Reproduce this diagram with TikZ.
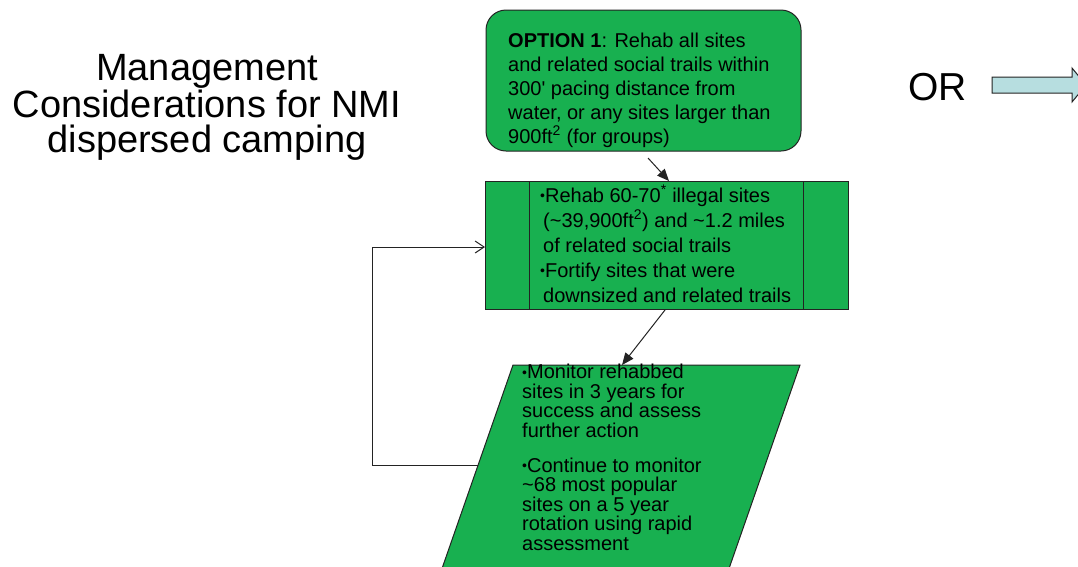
\documentclass[tikz,border=0pt]{standalone}
\usepackage{fontspec}
\setmainfont{Liberation Sans}
\usetikzlibrary{arrows.meta}
\definecolor{boxgreen}{RGB}{24,176,80}
\definecolor{arrowcyan}{RGB}{183,222,224}
\definecolor{edgegray}{RGB}{35,35,35}
\newcommand\bul{{\fontsize{14}{14}\selectfont\raisebox{1.5pt}{•}}}
\newcommand\sq{\textsuperscript{2}}
\begin{document}
\begin{tikzpicture}[x=1pt,y=-1pt,
  box/.style={draw=edgegray, fill=boxgreen, line width=1pt, inner sep=0pt},
  txt/.style={anchor=base west, inner sep=0pt, align=left, text=black},
  conn/.style={draw=edgegray, line width=1pt, -{Triangle[length=12pt,width=10pt]}},
  loopconn/.style={draw=edgegray, line width=1pt, -{Straight Barb[length=9pt,width=12pt]}},
]
\useasboundingbox (0,0) rectangle (1078,566);

% title (base anchor = baseline of last line)
\node[anchor=base, align=center, inner sep=0pt, font=\fontsize{38}{35}\selectfont] (title) at (207,152)
  {Management\\Considerations for NMI\\dispersed camping};

% OR and block arrow
\node[anchor=base west, inner sep=0pt, font=\fontsize{39}{39}\selectfont] (or) at (908,100) {OR};
\path[draw=edgegray, fill=arrowcyan, line width=1pt]
  (992,77) -- (1072,77) -- (1072,68) -- (1086,85) -- (1072,102) -- (1072,93) -- (992,93) -- cycle;

% option 1 box
\node[box, rounded corners=20pt, minimum width=315pt, minimum height=141pt] (opt) at (643.5,80.5) {};
\node[txt, font=\fontsize{20}{24}\selectfont] (opttext) at (508,143)
  {\textbf{OPTION 1}: Rehab all sites\\and related social trails within\\300\textquotesingle{} pacing distance from\\water, or any sites larger than\\900ft\sq{} (for groups)};

% rehab box
\node[box, minimum width=363pt, minimum height=128pt] (mid) at (666.5,245) {};
\draw[edgegray, line width=1pt] (529,181) -- (529,309) (803,181) -- (803,309);
\node[txt, font=\fontsize{20}{25}\selectfont] (midtext) at (540,302)
  {\bul Rehab 60-70\textsuperscript{*} illegal sites\\
   \hspace{3pt}(\textasciitilde 39,900ft\sq) and \textasciitilde 1.2 miles\\
   \hspace{3pt}of related social trails\\
   \bul Fortify sites that were\\
   \hspace{3pt}downsized and related trails};

% monitor parallelogram
\path[box] (513,365) -- (800,365) -- (725,580) -- (438,580) -- cycle;
\coordinate (monTop) at (622,365);
\coordinate (monLeft) at (478,465);
\node[txt, font=\fontsize{20}{19.5}\selectfont] (montext) at (522,550)
  {\bul Monitor rehabbed\\sites in 3 years for\\success and assess\\further action\\[15.5pt]
   \bul Continue to monitor\\\textasciitilde 68 most popular\\sites on a 5 year\\rotation using rapid\\assessment};

% connectors
\coordinate (optOut) at (648,158);
\coordinate (midIn) at (669,181);
\coordinate (midOut) at (665,310);
\coordinate (loopIn) at (485,247);
\coordinate (c1) at (372,465);
\coordinate (c2) at (372,247);
\draw[conn] (optOut) -- (midIn);
\draw[conn] (midOut) -- (monTop);
\draw[loopconn] (monLeft) -- (c1) -- (c2) -- (loopIn);
\end{tikzpicture}
\end{document}
